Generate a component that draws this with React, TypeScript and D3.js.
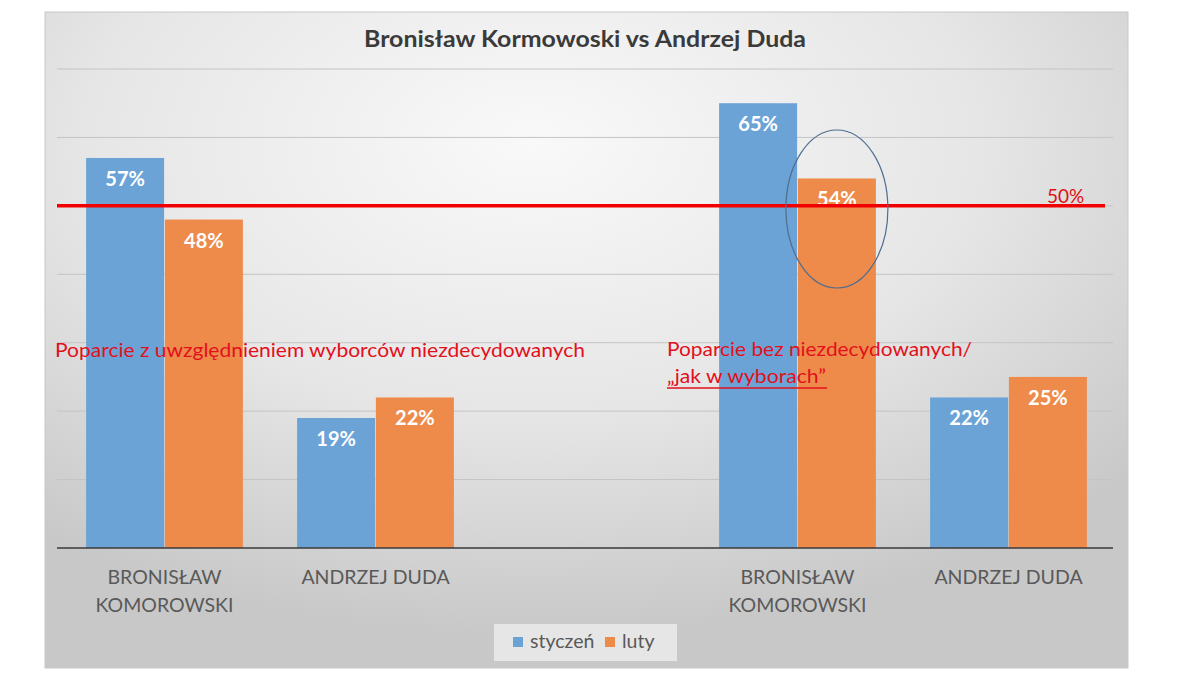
import React from "react";
import * as d3 from "d3";

const categories = ["BRONISŁAW KOMOROWSKI", "ANDRZEJ DUDA", "", "BRONISŁAW KOMOROWSKI", "ANDRZEJ DUDA"];
const seriesNames = ["styczeń", "luty"];
const styczen: (number | null)[] = [57, 19, null, 65, 22];
const luty: (number | null)[] = [48, 22, null, 54, 25];
const yTicks = [10, 20, 30, 40, 50, 60, 70];
const thresholdValue = 50;
const thresholdLabel = "50%";
const title = "Bronisław Kormowoski vs Andrzej Duda";
const note1 = "Poparcie z uwzględnieniem wyborców niezdecydowanych";
const note2a = "Poparcie bez niezdecydowanych/";
const note2b = "„jak w wyborach”";

const W = 1200;
const H = 676;
const FONT = "Lato, 'Open Sans', sans-serif";
const colors = ["#6ba3d7", "#ee8b4b"];

export default function App() {
  const plotL = 57, plotR = 1113, plotT = 69, plotB = 548;
  const idx = categories.map((_, i) => String(i));
  const x0 = d3.scaleBand<string>().domain(idx).range([59, 1114]).paddingInner(0.257).paddingOuter(0.1285);
  const x1 = d3.scaleBand<string>().domain(seriesNames).range([0, x0.bandwidth()]).paddingInner(0.01);
  const y = d3.scaleLinear().domain([0, 70]).range([plotB, plotT]);
  const series = [styczen, luty];

  return (
    <svg width={W} height={H} style={{ position: "absolute", left: 0, top: 0 }} fontFamily={FONT}>
      <defs>
        <radialGradient id="bg" cx="0.45" cy="0.2" r="0.75" fx="0.45" fy="0.2">
          <stop offset="0" stopColor="#f9f9f9" />
          <stop offset="0.55" stopColor="#e6e6e6" />
          <stop offset="1" stopColor="#c8c8c8" />
        </radialGradient>
      </defs>
      <rect x={0} y={0} width={W} height={H} fill="#ffffff" />
      <rect x={45} y={12} width={1083} height={656} fill="url(#bg)" stroke="#c8c8c8" strokeWidth={1} />

      <text x={585} y={47} textAnchor="middle" fontSize={22} fontWeight="bold" fill="#3a3a3a" textLength={442} lengthAdjust="spacingAndGlyphs">{title}</text>

      {yTicks.map((t) => (
        <line key={t} x1={plotL} x2={plotR} y1={y(t)} y2={y(t)} stroke="#c4c4c4" strokeWidth={1} />
      ))}

      {categories.map((c, i) =>
        series.map((s, j) => {
          const v = s[i];
          if (v == null) return null;
          const bx = (x0(String(i)) as number) + (x1(seriesNames[j]) as number);
          return (
            <g key={`${i}-${j}`}>
              <rect x={bx} y={y(v)} width={x1.bandwidth()} height={plotB - y(v)} fill={colors[j]} />
              <text x={bx + x1.bandwidth() / 2} y={y(v) + 28} textAnchor="middle" fontSize={20} fontWeight="bold" fill="#ffffff">{v}%</text>
            </g>
          );
        })
      )}

      <line x1={plotL} x2={plotR} y1={plotB} y2={plotB} stroke="#3a3a3a" strokeWidth={1.5} />

      <line x1={plotL} x2={1105} y1={y(thresholdValue)} y2={y(thresholdValue)} stroke="#f20000" strokeWidth={3.5} />
      <text x={1047} y={203} fontSize={19} fill="#e01010">{thresholdLabel}</text>

      <ellipse cx={(x0("3") as number) + (x1("luty") as number) + x1.bandwidth() / 2} cy={209} rx={51} ry={79} fill="none" stroke="#4f6d8f" strokeWidth={1.2} />

      <text x={55} y={357} fontSize={19} fill="#e3101c" textLength={530} lengthAdjust="spacingAndGlyphs">{note1}</text>
      <text x={667} y={356} fontSize={19} fill="#e3101c" textLength={305} lengthAdjust="spacingAndGlyphs">{note2a}</text>
      <text x={667} y={383} fontSize={19} fill="#e3101c" textLength={159} lengthAdjust="spacingAndGlyphs">{note2b}</text>
      <line x1={667} x2={827} y1={388} y2={388} stroke="#e3101c" strokeWidth={1.5} />

      {categories.map((c, i) => {
        if (!c) return null;
        const cx = (x0(String(i)) as number) + x0.bandwidth() / 2;
        const words = c.split(" ");
        const lines = c.startsWith("BRONIS") ? [words[0], words[1]] : [c];
        return (
          <text key={i} x={cx} textAnchor="middle" fontSize={19.5} fill="#595959">
            {lines.map((l, k) => (
              <tspan key={k} x={cx} y={584 + k * 28}>{l}</tspan>
            ))}
          </text>
        );
      })}

      <rect x={494} y={624} width={183} height={37} fill="#e9e9e9" opacity={0.9} />
      {seriesNames.map((n, j) => {
        const lx = j === 0 ? 513 : 605;
        return (
          <g key={n}>
            <rect x={lx} y={637} width={10} height={10} fill={colors[j]} />
            <text x={lx + 17} y={648} fontSize={19.5} fill="#595959">{n}</text>
          </g>
        );
      })}
    </svg>
  );
}
